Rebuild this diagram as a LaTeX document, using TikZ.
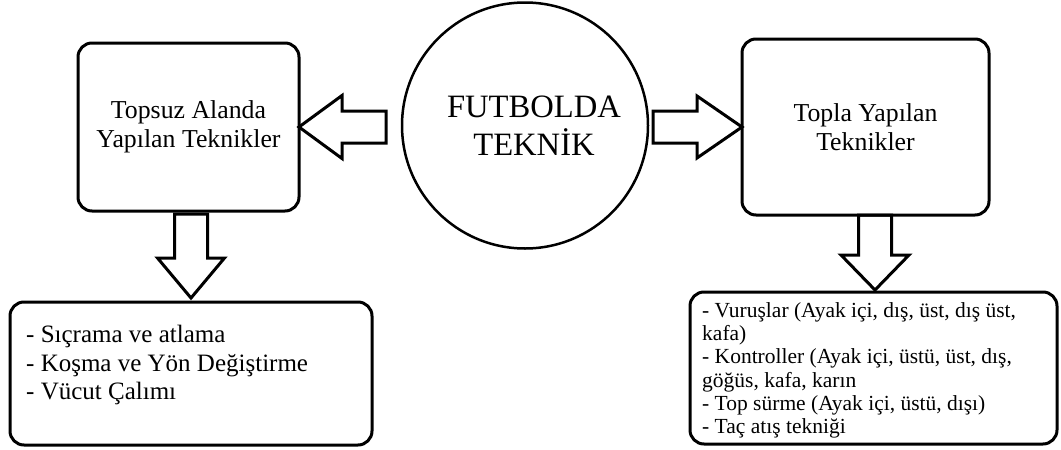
\documentclass[tikz,border=0pt]{standalone}
\usepackage{fontspec}
\setmainfont{Liberation Serif}
\usetikzlibrary{positioning,calc}
\tikzset{
  % rounded boxes with the technique groups
  techbox/.style={draw, line width=3pt, rounded corners=14pt, inner sep=0pt,
    outer sep=0pt, align=center, font=\fontsize{25.8}{29}\selectfont},
  listbox/.style={draw, line width=3pt, rounded corners=14pt, inner sep=0pt,
    outer sep=0pt},
  listtxt/.style={align=left, inner sep=0pt, anchor=north west},
  % the central circle
  hubcirc/.style={draw, circle, line width=2.5pt, inner sep=0pt, outer sep=0pt,
    minimum size=246pt},
  hubtext/.style={align=center, inner sep=0pt, font=\fontsize{32.6}{38}\selectfont},
  % hollow block arrows
  blockarr/.style={line width=3pt, line join=miter},
}
\begin{document}
\begin{tikzpicture}[x=1pt,y=-1pt]
    \useasboundingbox (0,0) rectangle (1061,450);
    % centre: FUTBOLDA TEKNİK
    \node[hubcirc] (hub) at (525,125.5) {};
    \node[hubtext] (hublbl) at ([xshift=9pt]hub.center) {FUTBOLDA\\TEKNİK};
    % the two groups
    \node[techbox, minimum width=221pt, minimum height=168pt] (topsuz) at (188.5,127)
      {Topsuz Alanda\\Yapılan Teknikler};
    \node[techbox, minimum width=247pt, minimum height=176pt] (topla) at (865.5,127)
      {Topla Yapılan\\Teknikler};
    % the lists below them
    \node[listbox, minimum width=362pt, minimum height=143pt] (topsuzlist) at (191,373.5) {};
    \node[listtxt, font=\fontsize{25}{28.5}\selectfont] (topsuztxt)
      at ([shift={(16,23)}]topsuzlist.north west)
      {- Sıçrama ve atlama\\- Koşma ve Yön Değiştirme\\- Vücut Çalımı};
    \node[listbox, minimum width=367pt, minimum height=152pt] (toplalist) at (873.5,368) {};
    \node[listtxt, font=\fontsize{21.5}{23.3}\selectfont] (toplatxt)
      at ([shift={(12,10)}]toplalist.north west)
      {- Vuruşlar (Ayak içi, dış, üst, dış üst,\\kafa)\\
       - Kontroller (Ayak içi, üstü, üst, dış,\\göğüs, kafa, karın\\
       - Top sürme (Ayak içi, üstü, dışı)\\- Taç atış tekniği};
    % block arrows
    \draw[blockarr] (topsuz.east) -- ++(43,-31.5) -- ++(0,15.5) -- ++(44,0)
      -- ++(0,32) -- ++(-44,0) -- ++(0,15.5) -- cycle;
    \draw[blockarr] (topla.west) -- ++(-45,-31) -- ++(0,15) -- ++(-44,0)
      -- ++(0,32) -- ++(44,0) -- ++(0,15) -- cycle;
    \draw[blockarr] ([yshift=4pt]topsuzlist.north) -- ++(-33.5,-40) -- ++(17,0)
      -- ++(0,-44) -- ++(33,0) -- ++(0,44) -- ++(17,0) -- cycle;
    \draw[blockarr] ([shift={(1.5,-2)}]toplalist.north) -- ++(-34,-35) -- ++(17.5,0)
      -- ++(0,-40) -- ++(33,0) -- ++(0,40) -- ++(17.5,0) -- cycle;
\end{tikzpicture}
\end{document}
